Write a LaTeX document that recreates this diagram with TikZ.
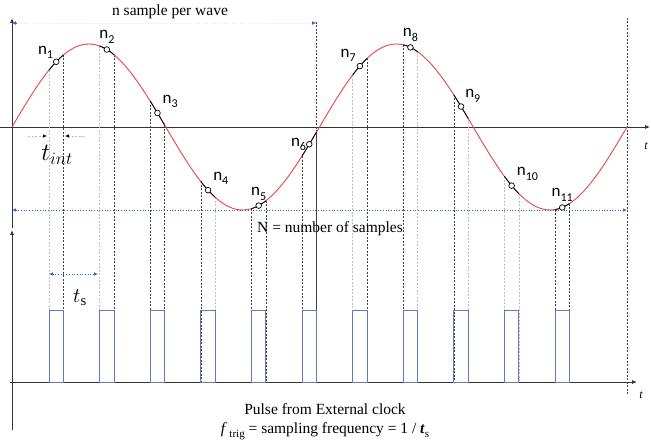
\documentclass[tikz,border=0pt]{standalone}
\usepackage{fontspec}
\setmainfont{Liberation Serif}
\newfontfamily\lblfont{Carlito}
\usetikzlibrary{arrows.meta}
\definecolor{wavered}{RGB}{228,70,70}
\definecolor{pulseblue}{RGB}{96,124,184}
\definecolor{dimblue}{RGB}{50,100,200}
\pgfmathdeclarefunction{wv}{1}{\pgfmathparse{127-83*sin((#1-12)/307.5*360)}}
\newcommand{\smpl}[1]{{\lblfont n\raisebox{-.55ex}{\fontsize{12}{13}\selectfont #1}}}
\tikzset{
  axis/.style={black!80,line width=0.8pt,-{Latex[length=5pt,width=4pt]}},
  wave/.style={wavered,line width=0.9pt},
  onwave/.style={black,line width=0.8pt},
  smp/.style={circle,draw=black,fill=white,line width=0.7pt,inner sep=2pt},
  lbl/.style={inner sep=1pt,font=\fontsize{17}{19}\selectfont},
  dk/.style={black!75,line width=0.6pt,dash pattern=on 2pt off 1.5pt},
  lt/.style={black!25,line width=0.6pt,dash pattern=on 2pt off 1.5pt},
  pulse/.style={pulseblue,line width=0.9pt},
  dimarr/.style={dimblue,dotted,line width=0.7pt,{Latex[length=4pt,width=3.5pt]}-{Latex[length=4pt,width=3.5pt]}},
  txt/.style={font=\fontsize{15.5}{18}\selectfont,inner sep=1pt}
}
\begin{document}
\begin{tikzpicture}[x=1pt,y=-1pt]
\useasboundingbox (0,0) rectangle (651,443);
% axes, top
\draw[axis] (12,228) -- (12,18);
\draw[axis] (0,127) -- (650,127);
\node[font=\fontsize{12}{14}\selectfont\itshape] (tA) at (646,146) {t};
% axes, bottom
\draw[axis] (12,430) -- (12,230);
\draw[axis] (10,382) -- (637,382);
\node[font=\fontsize{12}{14}\selectfont\itshape] (tB) at (641,395) {t};
% wave end lines
\draw[dk] (316,22) -- (316,382);
\draw[dk] (627,18) -- (627,395);
% sample lines and pulses
\foreach \k/\ls/\rs in {1/lt/dk,2/lt/dk,3/dk/dk,4/dk/lt,5/dk/dk,6/dk/dk,
    7/lt/dk,8/dk/lt,9/dk/lt,10/lt/lt,11/dk/dk}{
  \pgfmathsetmacro\xl{49+50.6*(\k-1)}
  \pgfmathsetmacro\xr{\xl+14.5}
  \coordinate (l\k) at (\xl,{wv(\xl)});
  \coordinate (r\k) at (\xr,{wv(\xr)});
  \draw[\ls] (l\k) -- (\xl,382);
  \draw[\rs] (r\k) -- (\xr,382);
  \draw[pulse] (\xl,382) rectangle (\xr,310);
}
\draw[wave] plot[domain=12:627,samples=200] (\x,{wv(\x)});
% samples on the wave
\foreach \k/\pos/\d in {1/above left/2,2/above/5,3/above right/4,4/above right/4,
    5/above/4,6/left/2,7/above left/3,8/above/5,9/above right/3,
    10/above right/4,11/above/5}{
  \pgfmathsetmacro\xl{49+50.6*(\k-1)}
  \pgfmathsetmacro\xr{\xl+14.5}
  \pgfmathsetmacro\xm{\xl+7.25}
  \draw[onwave] plot[domain=\xl:\xr,samples=8] (\x,{wv(\x)});
  \node[smp] (n\k) at (\xm,{wv(\xm)}) {};
  \node[lbl,\pos=\d pt] (nl\k) at (n\k) {\smpl{\k}};
}
% n sample per wave
\coordinate (wS) at (12,23);
\coordinate (wE) at (316,23);
\draw[dimarr,dimblue!15] (wS) -- (wE);
\draw[dimblue,-{Latex[length=4pt,width=3.5pt]}] (16,23) -- (wS);
\draw[dimblue,-{Latex[length=4pt,width=3.5pt]}] (312,23) -- (wE);
\node[txt] (wlbl) at (170,12) {n sample per wave};
% N = number of samples
\coordinate (NS) at (12,210);
\coordinate (NE) at (627,210);
\draw[dimarr] (NS) -- (NE);
\node[txt] (Nlbl) at (330,229) {N = number of samples};
% t_s
\coordinate (sS) at (49,274);
\coordinate (sE) at (98,274);
\draw[dimarr] (sS) -- (sE);
\node[font=\fontsize{21}{23}\selectfont] (slbl) at (80,298) {$t_{\mathrm{s}}$};
% t_int
\coordinate (iL) at (28,136);
\coordinate (iR) at (84,136);
\draw[lt,-{Latex[length=4pt,width=3.5pt,black]}] (iL) -- (47,136);
\draw[lt,-{Latex[length=4pt,width=3.5pt,black]}] (iR) -- (65,136);
\node[font=\fontsize{25}{27}\selectfont] (ilbl) at (57,155) {$t_{int}$};
% captions
\node[txt] (cap1) at (325,409) {Pulse from External clock};
\node[txt] (cap2) at (325,431) {\textit{f}\,\raisebox{-.5ex}{\fontsize{11}{12}\selectfont trig} = sampling frequency = 1 / \textit{\textbf{t}}\raisebox{-.5ex}{\fontsize{11}{12}\selectfont s}};
\end{tikzpicture}
\end{document}
